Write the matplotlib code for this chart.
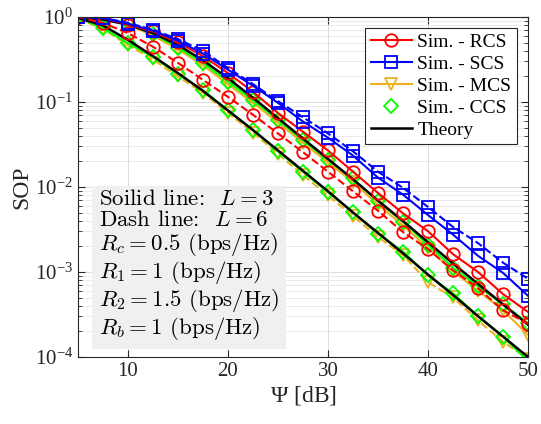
import numpy as np
import matplotlib.pyplot as plt
from matplotlib.lines import Line2D

plt.rcParams['font.family'] = ['Liberation Serif', 'DejaVu Serif']
plt.rcParams['mathtext.fontset'] = 'custom'
plt.rcParams['mathtext.rm'] = 'Liberation Serif'
plt.rcParams['mathtext.it'] = 'Liberation Serif:italic'

# SNR points [dB]
psi = [5, 7.5, 10, 12.5, 15, 17.5, 20, 22.5, 25, 27.5, 30, 32.5, 35, 37.5, 40, 42.5, 45, 47.5, 50]

# log10(SOP)
rcs_l3 = [0, -0.01, -0.09, -0.17, -0.30, -0.46, -0.66, -0.88, -1.13, -1.35, -1.57, -1.82,
          -2.07, -2.31, -2.52, -2.79, -3.00, -3.26, -3.47]
rcs_l6 = [0, -0.07, -0.19, -0.35, -0.54, -0.74, -0.94, -1.15, -1.37, -1.59, -1.82, -2.05,
          -2.28, -2.53, -2.73, -2.98, -3.19, -3.45, -3.61]
scs_l3 = [0, -0.01, -0.08, -0.16, -0.28, -0.43, -0.62, -0.81, -1.01, -1.23, -1.42, -1.63,
          -1.89, -2.09, -2.33, -2.56, -2.81, -3.01, -3.28]
scs_l6 = [0, -0.01, -0.07, -0.15, -0.26, -0.40, -0.60, -0.79, -0.99, -1.18, -1.37, -1.58,
          -1.82, -2.01, -2.235, -2.47, -2.66, -2.89, -3.08]
ccs_l3 = [0, -0.02, -0.07, -0.20, -0.36, -0.54, -0.76, -0.98, -1.21, -1.45, -1.68, -1.90,
          -2.17, -2.41, -2.68, -2.95, -3.17, -3.38, -3.60]
ccs_l6 = [-0.01, -0.13, -0.31, -0.47, -0.67, -0.86, -1.10, -1.33, -1.58, -1.82, -2.06, -2.30,
          -2.55, -2.76, -3.04, -3.25, -3.52, -3.76, -4.05]
mcs_l3 = [0, -0.03, -0.09, -0.22, -0.38, -0.57, -0.79, -1.01, -1.24, -1.48, -1.71, -1.94,
          -2.21, -2.45, -2.72, -2.99, -3.22, -3.45, -3.74]
mcs_l6 = [-0.02, -0.14, -0.33, -0.50, -0.70, -0.89, -1.13, -1.36, -1.61, -1.86, -2.10, -2.34,
          -2.59, -2.80, -3.12, -3.30, -3.57, -3.82, -4.02]
theory_l3 = [-0.01, -0.03, -0.09, -0.19, -0.33, -0.51, -0.72, -0.95, -1.19, -1.43, -1.67, -1.91,
             -2.16, -2.40, -2.65, -2.90, -3.14, -3.38, -3.62]
theory_l6 = [-0.01, -0.10, -0.27, -0.46, -0.66, -0.87, -1.10, -1.33, -1.57, -1.81, -2.05, -2.30,
             -2.54, -2.78, -3.03, -3.27, -3.52, -3.76, -4.00]

orange = '#EDB120'
green = '#00FF00'

fig = plt.figure(figsize=(5.41, 4.24), dpi=100)
ax = fig.add_axes([0.144, 0.158, 0.832, 0.802])

def sop(v):
    return 10 ** np.array(v)

mk = dict(markersize=8, markerfacecolor='none', markeredgewidth=1.3)
ax.plot(psi, sop(mcs_l3), '-', color=orange, marker='v', lw=1.5, **mk)
ax.plot(psi, sop(mcs_l6), '--', color=orange, marker='v', lw=1.5, **mk)
ax.plot(psi, sop(ccs_l3), 'none', color=green, marker='D', **dict(mk, markersize=7.5))
ax.plot(psi, sop(ccs_l6), 'none', color=green, marker='D', **dict(mk, markersize=7.5))
ax.plot(psi, sop(theory_l3), '-', color='k', lw=1.8)
ax.plot(psi, sop(theory_l6), '-', color='k', lw=1.8)
ax.plot(psi, sop(rcs_l3), '-', color='r', marker='o', lw=1.5, **dict(mk, markersize=9))
ax.plot(psi, sop(rcs_l6), '--', color='r', marker='o', lw=1.5, **dict(mk, markersize=9))
ax.plot(psi, sop(scs_l3), '-', color='b', marker='s', lw=1.5, **mk)
ax.plot(psi, sop(scs_l6), '--', color='b', marker='s', lw=1.5, **mk)

ax.set_yscale('log')
ax.set_xlim(5, 50)
ax.set_ylim(1e-4, 1)
ax.set_xticks([10, 20, 30, 40, 50])
ax.set_yticks([1, 1e-1, 1e-2, 1e-3, 1e-4])
ax.set_yticklabels([r'$\mathregular{10^{0}}$', r'$\mathregular{10^{-1}}$', r'$\mathregular{10^{-2}}$',
                    r'$\mathregular{10^{-3}}$', r'$\mathregular{10^{-4}}$'])
ax.tick_params(axis='both', which='both', direction='in', top=True, right=True,
               labelsize=15, colors='#262626')
ax.tick_params(which='major', length=5)
ax.tick_params(which='minor', length=3)
ax.grid(True, which='major', color='#dcdcdc', lw=0.7)
ax.grid(True, which='minor', axis='y', color='#e6e6e6', lw=0.6)
for s in ax.spines.values():
    s.set_color('#262626')
    s.set_linewidth(0.8)

ax.set_xlabel(r'$\mathregular{\Psi}$ [dB]', fontsize=17, color='#262626', labelpad=2)
ax.set_ylabel('SOP', fontsize=17, color='#262626', labelpad=2)

handles = [
    Line2D([], [], color='r', marker='o', lw=1.5, **dict(mk, markersize=9)),
    Line2D([], [], color='b', marker='s', lw=1.5, **mk),
    Line2D([], [], color=orange, marker='v', lw=1.5, **mk),
    Line2D([], [], color=green, marker='D', ls='none', **dict(mk, markersize=7.5)),
    Line2D([], [], color='k', lw=1.8),
]
labels = ['Sim. - RCS', 'Sim. - SCS', 'Sim. - MCS', 'Sim. - CCS', 'Theory']
leg = ax.legend(handles, labels, loc='upper right', fontsize=14, frameon=True, fancybox=False,
                edgecolor='#262626', framealpha=1, borderaxespad=0.55, handlelength=2.1,
                handletextpad=0.3, labelspacing=0.22, borderpad=0.3)
leg.get_frame().set_linewidth(0.8)

note = ('Soilid line:  $L = 3$\n'
        'Dash line:  $L = 6$\n'
        '$R_c = 0.5$ (bps/Hz)\n'
        '$R_1 = 1$ (bps/Hz)\n'
        '$R_2 = 1.5$ (bps/Hz)\n'
        '$R_b = 1$ (bps/Hz)')
ax.text(0.047, 0.045, note, transform=ax.transAxes, fontsize=16.5, family='cmr10',
        math_fontfamily='cm', va='bottom', ha='left', linespacing=1.05,
        bbox=dict(boxstyle='square,pad=0.3', facecolor='#f0f0f0', edgecolor='none'))

fig.savefig('out.png', dpi=100)
